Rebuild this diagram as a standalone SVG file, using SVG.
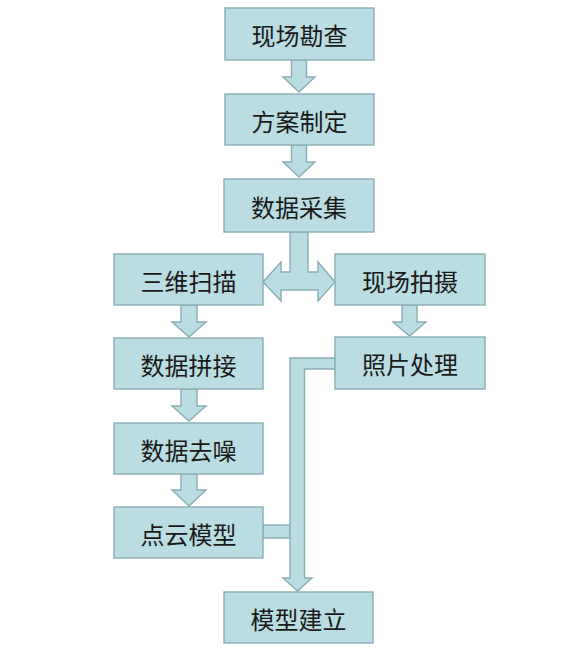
<svg xmlns="http://www.w3.org/2000/svg" width="580" height="661" viewBox="0 0 580 661">
<style>
.box{fill:#b9dde2;stroke:#88adb2;stroke-width:1.4}
.conn{fill:#b9dde2;stroke:#88adb2;stroke-width:1.4;stroke-linejoin:miter}
.lbl{font-family:"Noto Sans CJK SC","Noto Sans",sans-serif;font-size:24px;fill:#1a1a1a;text-anchor:middle;dominant-baseline:central}
</style>
<rect width="580" height="661" fill="#ffffff"/>
<g id="connectors">
  <polygon class="conn" points="291.5,60 306.5,60 306.5,77 315,77 299,92 283,77 291.5,77"/>
  <polygon class="conn" points="291.5,145 306.5,145 306.5,162 315,162 299,177 283,162 291.5,162"/>
  <polygon class="conn" points="290,232 290,272 281,272 281,262 263,282 281,301 281,290 318,290 318,301 335,282 318,262 318,272 308,272 308,232"/>
  <polygon class="conn" points="181,305 197,305 197,322 206,322 189,337 172,322 181,322"/>
  <polygon class="conn" points="402,305 417,305 417,322 426,322 409.5,336 393,322 402,322"/>
  <polygon class="conn" points="181,389 197,389 197,406 206,406 189,421 172,406 181,406"/>
  <polygon class="conn" points="181,474 197,474 197,490 206,490 189,506 172,490 181,490"/>
  <rect class="conn" x="263" y="525" width="27" height="13"/>
  <polygon class="conn" points="335,358 290,358 290,578 283,578 297.5,591 312,578 304.5,578 304.5,369 335,369"/>
</g>
<g id="n1"><rect class="box" x="225" y="8" width="149" height="52"/><text class="lbl" x="299.5" y="34">现场勘查</text></g>
<g id="n2"><rect class="box" x="225" y="94" width="149" height="51"/><text class="lbl" x="299.5" y="120">方案制定</text></g>
<g id="n3"><rect class="box" x="224" y="179" width="150" height="53"/><text class="lbl" x="299" y="206">数据采集</text></g>
<g id="n4"><rect class="box" x="114" y="254" width="149" height="51"/><text class="lbl" x="188.5" y="280">三维扫描</text></g>
<g id="n5"><rect class="box" x="335" y="254" width="150" height="51"/><text class="lbl" x="410" y="280">现场拍摄</text></g>
<g id="n6"><rect class="box" x="114" y="338" width="149" height="51"/><text class="lbl" x="188.5" y="364">数据拼接</text></g>
<g id="n7"><rect class="box" x="335" y="337" width="150" height="52"/><text class="lbl" x="410" y="363">照片处理</text></g>
<g id="n8"><rect class="box" x="114" y="423" width="149" height="51"/><text class="lbl" x="188.5" y="449">数据去噪</text></g>
<g id="n9"><rect class="box" x="114" y="507" width="149" height="51"/><text class="lbl" x="188.5" y="533">点云模型</text></g>
<g id="n10"><rect class="box" x="224" y="592" width="149" height="51"/><text class="lbl" x="298.5" y="618">模型建立</text></g>
</svg>
